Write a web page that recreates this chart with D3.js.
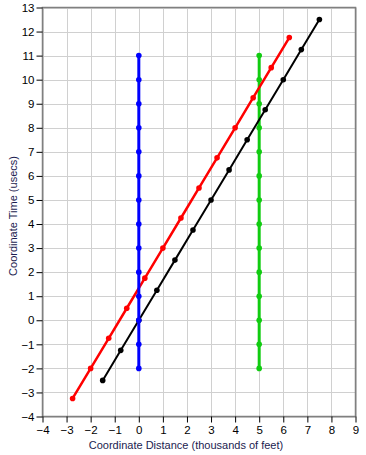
<!DOCTYPE html>
<html>
<head>
<meta charset="utf-8">
<script src="https://cdn.jsdelivr.net/npm/d3@7"></script>
<style>
  body { margin: 0; background: #fff; }
  svg { display: block; font-family: "Liberation Sans", Arial, sans-serif; }
  .grid line { stroke: #d0d0d0; stroke-width: 1; }
  .axis text { font-size: 11.5px; fill: #000; }
  .axis path { display: none; }
  .axis line { stroke: #000; }
  .title { font-size: 11px; fill: #1c1c50; }
</style>
</head>
<body>
<div id="chart"></div>
<script>
// coordinate distance (thousands of feet) / coordinate time (usecs)
var blueX = [0, 0, 0, 0, 0, 0, 0, 0, 0, 0, 0, 0, 0, 0];
var blueY = [-2, -1, 0, 1, 2, 3, 4, 5, 6, 7, 8, 9, 10, 11];
var greenX = [5, 5, 5, 5, 5, 5, 5, 5, 5, 5, 5, 5, 5, 5];
var greenY = [-2, -1, 0, 1, 2, 3, 4, 5, 6, 7, 8, 9, 10, 11];
var blackX = [-1.5, -0.75, 0, 0.75, 1.5, 2.25, 3, 3.75, 4.5, 5.25, 6, 6.75, 7.5];
var blackY = [-2.5, -1.25, 0, 1.25, 2.5, 3.75, 5, 6.25, 7.5, 8.75, 10, 11.25, 12.5];
var redX = [-2.75, -2, -1.25, -0.5, 0.25, 1, 1.75, 2.5, 3.25, 4, 4.75, 5.5, 6.25];
var redY = [-3.25, -2, -0.75, 0.5, 1.75, 3, 4.25, 5.5, 6.75, 8, 9.25, 10.5, 11.75];
var xTicks = [-4, -3, -2, -1, 0, 1, 2, 3, 4, 5, 6, 7, 8, 9];
var yTicks = [-4, -3, -2, -1, 0, 1, 2, 3, 4, 5, 6, 7, 8, 9, 10, 11, 12, 13];

var width = 366, height = 455;
var margin = {left: 42.5, right: 10.5, top: 7.5, bottom: 38.5};

var svg = d3.select("#chart").append("svg")
    .attr("width", width)
    .attr("height", height);

var x = d3.scaleLinear().domain([-4, 9]).range([margin.left, width - margin.right]);
var y = d3.scaleLinear().domain([-4, 13]).range([height - margin.bottom, margin.top]);

// grid
svg.append("g").attr("class", "grid")
    .selectAll("line.v").data(xTicks).enter().append("line")
    .attr("x1", function(d) { return Math.round(x(d)) + 0.5; })
    .attr("x2", function(d) { return Math.round(x(d)) + 0.5; })
    .attr("y1", y(13)).attr("y2", y(-4));
svg.select("g.grid")
    .selectAll("line.h").data(yTicks).enter().append("line")
    .attr("y1", function(d) { return Math.round(y(d)) + 0.5; })
    .attr("y2", function(d) { return Math.round(y(d)) + 0.5; })
    .attr("x1", x(-4)).attr("x2", x(9));

// frame
svg.append("rect")
    .attr("x", x(-4)).attr("y", y(13))
    .attr("width", x(9) - x(-4)).attr("height", y(-4) - y(13))
    .attr("fill", "none").attr("stroke", "#808080").attr("stroke-width", 1.5);

var series = [
    {xs: greenX, ys: greenY, color: "#11cc11", width: 3},
    {xs: redX, ys: redY, color: "#ff0000", width: 2.5},
    {xs: blackX, ys: blackY, color: "#000000", width: 2},
    {xs: blueX, ys: blueY, color: "#0000ff", width: 3}
];

var line = d3.line()
    .x(function(d) { return x(d[0]); })
    .y(function(d) { return y(d[1]); });

series.forEach(function(s) {
    var pts = d3.zip(s.xs, s.ys);
    var g = svg.append("g");
    g.append("path")
        .datum(pts)
        .attr("d", line)
        .attr("fill", "none")
        .attr("stroke", s.color)
        .attr("stroke-width", s.width);
    g.selectAll("circle").data(pts).enter().append("circle")
        .attr("cx", function(d) { return x(d[0]); })
        .attr("cy", function(d) { return y(d[1]); })
        .attr("r", 2.8)
        .attr("fill", s.color);
});

// axes
svg.append("g").attr("class", "axis")
    .attr("transform", "translate(0," + y(-4) + ")")
    .call(d3.axisBottom(x).tickValues(xTicks).tickSize(6).tickPadding(3));
svg.append("g").attr("class", "axis")
    .attr("transform", "translate(" + x(-4) + ",0)")
    .call(d3.axisLeft(y).tickValues(yTicks).tickSize(6).tickPadding(2));

svg.append("text").attr("class", "title")
    .attr("x", 186)
    .attr("y", 449)
    .attr("text-anchor", "middle")
    .text("Coordinate Distance (thousands of feet)");
svg.append("text").attr("class", "title")
    .attr("transform", "translate(17,216) rotate(-90)")
    .attr("text-anchor", "middle")
    .text("Coordinate Time (usecs)");
</script>
</body>
</html>
